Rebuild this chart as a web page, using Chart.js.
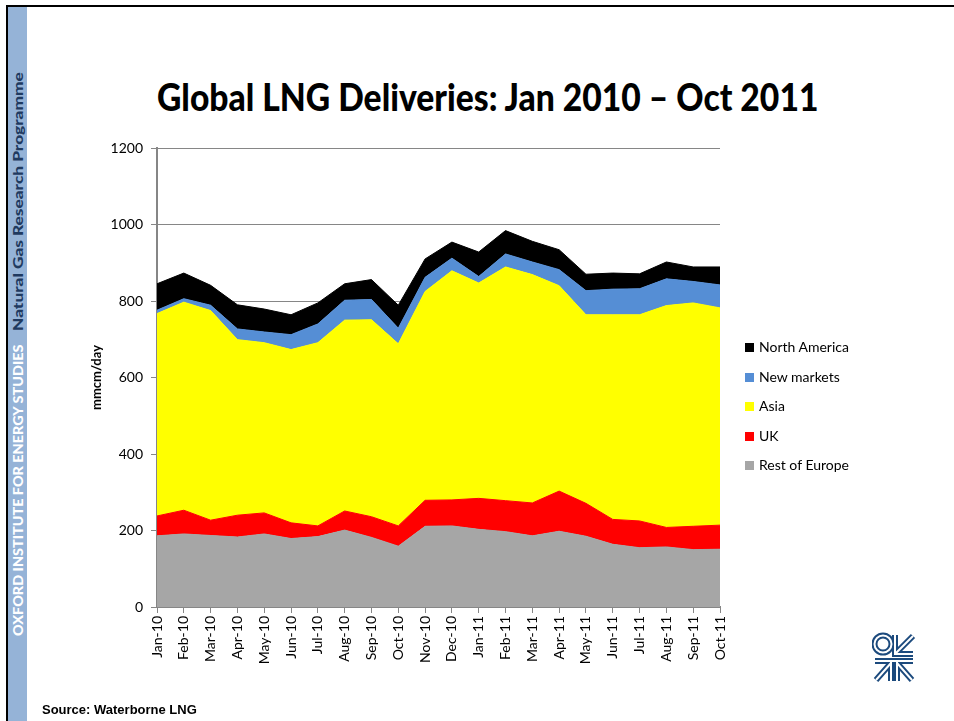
<!DOCTYPE html>
<html>
<head>
<meta charset="utf-8">
<title>Global LNG Deliveries</title>
<script src="https://cdn.jsdelivr.net/npm/chart.js@4.4.1/dist/chart.umd.min.js"></script>
<style>
  html, body { margin: 0; padding: 0; background: #fff; }
  body { position: relative; width: 954px; height: 721px; overflow: hidden; font-family: Lato, "Open Sans", sans-serif; }
  .abs { position: absolute; }
  #chartBox { left: 0; top: 0; width: 954px; height: 721px; }
  #frameTop { left: 6px; top: 5px; width: 948px; height: 2px; background: #000; }
  #frameLeft { left: 6px; top: 5px; width: 2px; height: 716px; background: #000; }
  #sidebar { left: 8px; top: 7px; width: 19px; height: 714px; background: #95b3d7; }
  .side { white-space: nowrap; transform-origin: 0 0; font-weight: 900; font-size: 14px; line-height: 17px; display: inline-block; }
  #title { left: 157px; top: 78px; font-weight: 900; font-size: 37px; line-height: 37px; white-space: nowrap; display: inline-block; transform-origin: 0 0; color: #000; }
  #source { left: 42px; top: 702px; font-family: "Liberation Sans", Arial, sans-serif; font-weight: bold; font-size: 13px; color: #000; }
  .legItem { left: 745px; height: 18px; line-height: 18px; font-size: 14px; color: #000; white-space: nowrap; }
  .legItem span { display: inline-block; width: 9px; height: 9px; margin-right: 5px; vertical-align: 0px; }
</style>
</head>
<body>
<div id="frameTop" class="abs"></div>
<div id="frameLeft" class="abs"></div>
<div id="sidebar" class="abs"></div>
<div id="side1" class="abs side" style="left:9px; top:636px; color:#ffffff;">OXFORD INSTITUTE FOR ENERGY STUDIES</div>
<div id="side2" class="abs side" style="left:9px; top:331px; color:#1f3a60;">Natural Gas Research Programme</div>
<div id="title" class="abs">Global LNG Deliveries: Jan 2010 – Oct 2011</div>
<div id="chartBox" class="abs"><canvas id="lngChart" width="954" height="721"></canvas></div>
<div id="legend"></div>
<div id="source" class="abs">Source: Waterborne LNG</div>
<svg class="abs" style="left:872px; top:632px;" width="44" height="52" viewBox="0 0 44 52">
  <g fill="none" stroke="#1c4a7d" stroke-width="6" stroke-linejoin="miter">
    <circle cx="11" cy="12" r="8.5"/>
    <path d="M23 3 V22 H41 M23 22 L41 4"/>
    <path d="M3 29 H41 M19 29 V49 M25 29 V49 M19 31 L4 48 M25 31 L40 48"/>
  </g>
  <g fill="none" stroke="#ffffff" stroke-width="2">
    <circle cx="11" cy="12" r="8.5"/>
    <path d="M23 3 V22 H41 M23 22 L41 4"/>
    <path d="M3 29 H41 M19 29 V49 M25 29 V49 M19 31 L4 48 M25 31 L40 48"/>
  </g>
</svg>

<script>
// monthly LNG deliveries, mmcm/day
const months = ['Jan-10','Feb-10','Mar-10','Apr-10','May-10','Jun-10','Jul-10','Aug-10','Sep-10','Oct-10','Nov-10',
                'Dec-10','Jan-11','Feb-11','Mar-11','Apr-11','May-11','Jun-11','Jul-11','Aug-11','Sep-11','Oct-11'];
const restOfEurope = [186,191,187,183,191,179,184,201,182,159,211,212,203,197,186,198,185,164,155,157,150,151];
const uk           = [52,62,40,57,55,41,28,50,54,53,68,68,81,81,86,105,86,65,70,51,61,63];
const asia         = [529,544,548,459,445,453,479,499,515,476,546,599,563,611,597,537,493,535,539,580,584,568];
const newMarkets   = [9,9,14,28,28,39,49,52,53,41,37,33,17,34,33,42,63,67,68,70,56,60];
const northAmerica = [69,67,52,63,60,52,55,43,52,60,48,42,64,61,54,52,43,42,39,44,38,47];
const yTickValues  = [0,200,400,600,800,1000,1200];

const axisGray = '#868686';

// one stacked area layer
function area(label, data, color, fill) {
  return {
    label: label,
    data: data,
    backgroundColor: color,
    borderColor: color,
    borderWidth: 1,
    pointRadius: 0,
    pointHoverRadius: 0,
    tension: 0,
    fill: fill
  };
}

const datasets = [
  area('Rest of Europe', restOfEurope, '#a6a6a6', 'origin'),
  area('UK', uk, '#ff0000', '-1'),
  area('Asia', asia, '#ffff00', '-1'),
  area('New markets', newMarkets, '#558ed5', '-1'),
  area('North America', northAmerica, '#000000', '-1')
];

const chart = new Chart(document.getElementById('lngChart'), {
  type: 'line',
  data: { labels: months, datasets: datasets },
  options: {
    responsive: false,
    animation: false,
    layout: { padding: { left: 87, right: 234, top: 148, bottom: 44 } },
    plugins: {
      legend: { display: false },
      tooltip: { enabled: false }
    },
    scales: {
      x: {
        offset: false,
        grid: { drawOnChartArea: false, drawTicks: true, tickLength: 6, color: axisGray },
        border: { color: axisGray, width: 2 },
        ticks: {
          autoSkip: false, maxRotation: 90, minRotation: 90, padding: 3,
          color: '#000', font: { family: 'Lato', size: 14 }
        },
        afterFit: s => { s.height = 70; }
      },
      y: {
        stacked: true,
        min: 0,
        max: 1200,
        afterBuildTicks: s => { s.ticks = yTickValues.map(v => ({ value: v })); },
        grid: { color: axisGray, tickLength: 6 },
        border: { color: axisGray, width: 2 },
        ticks: {
          padding: 8, color: '#000', font: { family: 'Lato', size: 14 },
          callback: v => String(v)
        },
        title: {
          display: true, text: 'mmcm/day', color: '#000', padding: { top: 2, bottom: 0 },
          font: { family: 'Lato', size: 13, weight: 'bold' }
        },
        afterFit: s => { s.width = 70; }
      }
    }
  }
});

// legend, top entry = top layer
const legendBox = document.getElementById('legend');
chart.data.datasets.slice().reverse().forEach((ds, i) => {
  const row = document.createElement('div');
  row.className = 'abs legItem';
  row.style.top = (338 + i * 29.5) + 'px';
  row.innerHTML = '<span style="background:' + ds.backgroundColor + '"></span>' + ds.label;
  legendBox.appendChild(row);
});

// squeeze texts to the widths they have on the slide
function fitWidth(el, target, rotate) {
  const k = target / el.offsetWidth;
  el.style.transform = (rotate ? 'rotate(-90deg) ' : '') + 'scaleX(' + k + ')';
}
fitWidth(document.getElementById('title'), 661, false);
fitWidth(document.getElementById('side1'), 291, true);
fitWidth(document.getElementById('side2'), 259, true);
</script>
</body>
</html>
